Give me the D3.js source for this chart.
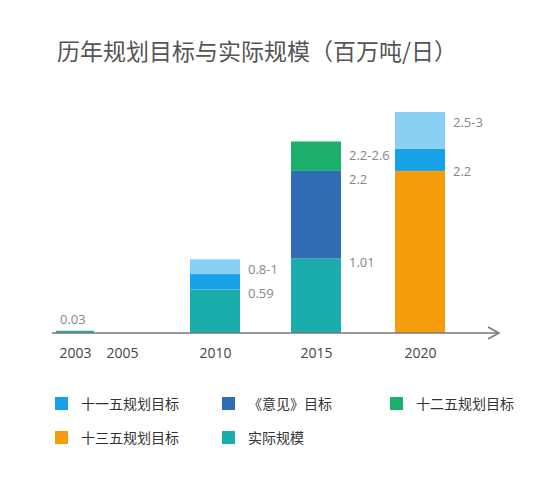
<!DOCTYPE html>
<html><head><meta charset="utf-8">
<script src="https://cdn.jsdelivr.net/npm/d3@7"></script>
<style>body{margin:0;background:#fff;font-family:"Noto Sans CJK SC","Open Sans",sans-serif}</style>
</head><body><svg id="c" width="550" height="480"></svg>
<script>
const years = ['2003', '2005', '2010', '2015', '2020'];
const seriesNames = ['十一五规划目标', '《意见》目标', '十二五规划目标', '十三五规划目标', '实际规模'];
const colors = ['#17a2e8', '#2e6db4', '#1db06c', '#f59c0a', '#1aadac'];
// stacked segments per year: [series index, value]
const stacks = {
  '2003': [[4, 0.03]],
  '2005': [],
  '2010': [[4, 0.59], [0, 0.21], ['light', 0.2]],
  '2015': [[4, 1.01], [1, 1.19], [2, 0.4]],
  '2020': [[3, 2.2], [0, 0.3], ['light', 0.5]]
};
const valueLabels = {
  '2003': [['0.03', 0.03, 'top']],
  '2010': [['0.59', 0.59, 'mid0'], ['0.8-1', 1.0, 'mid']],
  '2015': [['1.01', 1.01, 'mid0'], ['2.2', 2.2, 'c'], ['2.2-2.6', 2.6, 'a']],
  '2020': [['2.2', 2.2, 'b'], ['2.5-3', 3.0, 'mid']]
};
const lightColor = '#88cff4';

const svg = d3.select('#c');
const y = d3.scaleLinear().domain([0, 3]).range([333, 112]);
const x = d3.scaleOrdinal().domain(years).range([75, 122, 215, 316, 420]);
const bw = y2 => y2 === '2003' ? 38 : 50;

svg.append('text').attr('x', 57).attr('y', 60).attr('font-size', 23).attr('fill', '#555')
  .text('历年规划目标与实际规模（百万吨/日）');

years.forEach(yr => {
  let base = 0;
  stacks[yr].forEach(([s, v]) => {
    svg.append('rect').attr('x', x(yr) - bw(yr) / 2).attr('width', bw(yr))
      .attr('y', y(base + v)).attr('height', y(base) - y(base + v))
      .attr('fill', s === 'light' ? lightColor : colors[s]);
    base += v;
  });
  (valueLabels[yr] || []).forEach(([t, v, pos]) => {
    const off = {top: -7, mid0: 8, mid: 15, b: 5, c: 13, a: 19}[pos];
    const tx = yr === '2003' ? x(yr) - 15 : x(yr) + bw(yr) / 2 + 8;
    svg.append('text').attr('x', tx).attr('y', y(v) + off).attr('font-size', 13)
      .attr('fill', '#888').attr('font-family', 'Open Sans, sans-serif').text(t);
  });
});

// axis with arrow
const ax = d3.axisBottom(x).tickSize(0).tickPadding(15);
const g = svg.append('g').attr('transform', 'translate(0,333)').call(ax);
g.select('.domain').remove();
g.selectAll('text').attr('font-size', 14).attr('fill', '#444').attr('font-family', 'Open Sans, sans-serif');
svg.append('line').attr('x1', 52).attr('x2', 498).attr('y1', 333).attr('y2', 333)
  .attr('stroke', '#777').attr('stroke-width', 1.5);
svg.append('path').attr('d', 'M488,327 L499,333 L488,339').attr('fill', 'none')
  .attr('stroke', '#777').attr('stroke-width', 1.5);

// legend
const lx = [55, 222, 390], ly = [404, 438];
seriesNames.forEach((name, i) => {
  const gx = lx[i % 3], gy = ly[Math.floor(i / 3)];
  svg.append('rect').attr('x', gx).attr('y', gy - 7).attr('width', 13).attr('height', 13).attr('fill', colors[i]);
  svg.append('text').attr('x', gx + 26).attr('y', gy + 5).attr('font-size', 14).attr('fill', '#333').text(name);
});
</script></body></html>
